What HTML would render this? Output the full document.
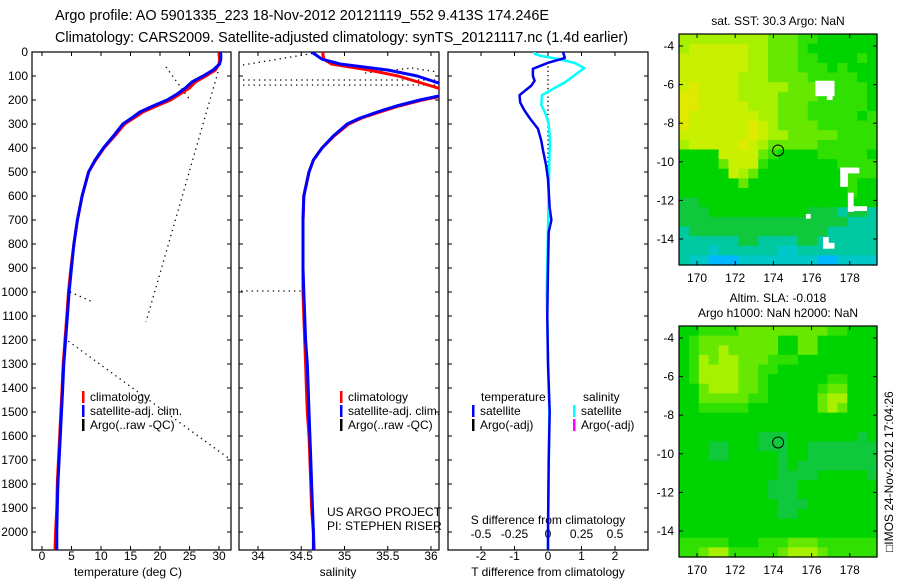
<!DOCTYPE html>
<html><head><meta charset="utf-8">
<style>
html,body{margin:0;padding:0;background:#fff;}
svg{display:block;font-family:"Liberation Sans",sans-serif;}
</style></head>
<body>
<svg id="fig" width="900" height="580" viewBox="0 0 900 580" xmlns="http://www.w3.org/2000/svg">
<defs>
<clipPath id="c1"><rect x="32" y="52" width="199" height="498"/></clipPath>
<clipPath id="c2"><rect x="239" y="52" width="200" height="498"/></clipPath>
<clipPath id="c3"><rect x="448" y="52" width="200" height="498"/></clipPath>
</defs>
<g font-size="14.4">
<text x="55" y="20">Argo profile: AO 5901335_223 18-Nov-2012 20121119_552 9.413S 174.246E</text>
<text x="55" y="42">Climatology: CARS2009. Satellite-adjusted climatology: synTS_20121117.nc (1.4d earlier)</text>
</g>
<g id="p1"></g>
<g id="p2"></g>
<g id="p3"></g>
<g id="m1"></g>
<g id="m2"></g>
<text transform="translate(893,552) rotate(-90)" font-size="12">□IMOS 24-Nov-2012 17:04:26</text>
</svg>
<script>
// ---------- data ----------
const depths = [0,10,30,50,75,100,125,150,175,200,225,250,275,300,350,400,450,500,600,700,800,900,1000,1100,1200,1300,1400,1500,1600,1700,1800,1900,2000,2075];
const tempClim = [30.0,30.0,30.1,30.0,29.4,27.8,26.0,25.0,23.4,21.8,19.4,17.1,15.6,14.0,12.3,10.5,9.1,7.9,6.8,6.0,5.4,4.9,4.5,4.2,3.9,3.6,3.4,3.2,3.0,2.8,2.6,2.5,2.3,2.2];
const tempSat = [30.2,30.3,30.3,30.1,29.0,27.3,25.4,24.3,22.9,21.2,18.8,16.6,15.2,13.7,12.1,10.4,9.0,7.9,6.8,6.0,5.4,5.0,4.6,4.3,4.0,3.7,3.5,3.3,3.1,2.9,2.7,2.6,2.5,2.5];
const salClim = [34.75,34.75,34.76,34.85,35.28,35.62,35.85,36.08,36.25,35.9,35.63,35.41,35.2,35.05,34.88,34.74,34.64,34.59,34.53,34.52,34.52,34.52,34.52,34.53,34.54,34.55,34.56,34.57,34.59,34.6,34.61,34.62,34.64,34.65];
const salSat = [34.62,34.66,34.74,34.95,35.5,35.84,36.05,36.3,36.2,35.87,35.6,35.38,35.18,35.03,34.87,34.74,34.64,34.59,34.53,34.52,34.52,34.52,34.53,34.54,34.55,34.57,34.58,34.59,34.6,34.61,34.62,34.63,34.64,34.64];
const tDiffDepth = [0,25,45,70,100,120,140,180,210,240,275,320,370,410,470,530,650,700,750,900,1100,1300,1500,1700,2000,2075];
const tDiff = [0.45,0.5,0.0,-0.45,-0.45,-0.4,-0.5,-0.85,-0.83,-0.72,-0.55,-0.3,-0.2,-0.15,-0.06,0,0.05,0.1,0.02,0.0,-0.02,0.0,0.05,0.02,0.0,0.0];
const sDiffDepth = [0,8,15,30,46,67,96,125,150,180,220,262,300,370,450,600,1000,1500,2075];
const sDiff = [-0.1,-0.1,-0.06,0.08,0.2,0.27,0.2,0.13,0.05,-0.045,-0.05,-0.015,0.005,0.015,0.01,0.005,-0.01,0.01,0.0];
const depthTicks = [0,100,200,300,400,500,600,700,800,900,1000,1100,1200,1300,1400,1500,1600,1700,1800,1900,2000];
const tempTicks = [0,5,10,15,20,25,30];
const salTicks = [34,34.5,35,35.5,36];
const tdTicks = [-2,-1,0,1,2];
const sdTicks = [-0.5,-0.25,0,0.25,0.5];
const sdTickLabels = ["-0.5","-0.25","0","0.25","0.5"];
const lonTicks = [170,172,174,176,178];
const latTicks = [-4,-6,-8,-10,-12,-14];
const argoLon = 174.246, argoLat = -9.413;
const sstRows = [
"77777777766655444444","78888887766654444444","88888887766655444454","88888887766655545444",
"88888877766665555544","89888877777666555554","99888877776666555554","99888887776665555554",
"98888888776665555545","98888889876666555555","88888889877666665555","78888898766666555555",
"44448888654444555554","44446888544444445555","44444876444444444555","44444464444444444544",
"44444444444444444544","33444444444444444444","33344444444443332332","33333333333333333222",
"23333333333333322222","22222233222233222222","22212222221122222222","21100011111111001111"];
const slaRows = [
"44555566666666655444","45666666664466444444","45667666664466444444","45767766655544444444",
"45777766554444444444","45777766544444455444","44677766544444566444","44666665544444677444",
"44555554444444676444","44444444444444444444","44444444444444444444","44444444333444444434",
"44433444333443333333","44433444443443333333","44444444443433333333","44444444443333444443",
"44444444433344444444","44444444433344444444","44444444443334444444","44444444443344444444",
"44444444444444444444","44444444444444444444","55555444555666555555","55677555556777655555"];
const nanBoxes = [[176.2,-5.8,1.0,0.8],[176.8,-6.2,0.3,0.6],[177.5,-10.3,0.4,1.0],[177.5,-10.3,1.0,0.3],[177.9,-11.6,0.3,1.0],[177.9,-12.3,1.0,0.25],[175.7,-12.7,0.25,0.25],[176.6,-13.9,0.3,0.6],[176.6,-14.2,0.6,0.3]];
const palette = ["#00b8ff","#00c8c8","#00c8a0","#10c83c","#00d400","#30e000","#66e800","#a6f000","#c8f000","#e0ea00"];

// ---------- helpers ----------
const NS="http://www.w3.org/2000/svg";
function mk(parent,tag,attrs,text){const e=document.createElementNS(NS,tag);for(const k in attrs)e.setAttribute(k,attrs[k]);if(text!==undefined)e.textContent=text;parent.appendChild(e);return e;}
const yD = d => 52 + d*0.24;
const xT = t => 42 + t*5.9;
const xS = s => 258 + (s-34)*86.5;
const xTD = v => 548 + v*33.5;
const xSD = v => 548 + v*134;

function frame(g,x0,w,name){const r=mk(g,"rect",{x:x0,y:52,width:w,height:498,fill:"none",stroke:"#000","stroke-width":1.2});

}
function yTicks(g,x0,w){depthTicks.forEach(d=>{mk(g,"line",{x1:x0,x2:x0+4,y1:yD(d),y2:yD(d),stroke:"#000"});mk(g,"line",{x1:x0+w-4,x2:x0+w,y1:yD(d),y2:yD(d),stroke:"#000"});});}
function xTicks(g,ticks,fx,labels,ly){ticks.forEach((t,i)=>{const x=fx(t);mk(g,"line",{x1:x,x2:x,y1:546,y2:550,stroke:"#000"});mk(g,"line",{x1:x,x2:x,y1:52,y2:56,stroke:"#000"});
const tx=mk(g,"text",{x:x,y:ly,"text-anchor":"middle","font-size":12},labels?labels[i]:String(t));

});}
function line(g,xs,ds,fx,color,w,clip,name){const pts=xs.map((v,i)=>fx(v).toFixed(1)+","+yD(ds[i]).toFixed(1)).join(" ");
const p=mk(g,"polyline",{points:pts,fill:"none",stroke:color,"stroke-width":w,"clip-path":"url(#"+clip+")","stroke-linejoin":"round"});

}
function dotted(g,x1,y1,x2,y2,clip){mk(g,"line",{x1:x1,y1:y1,x2:x2,y2:y2,stroke:"#000","stroke-width":1.3,"stroke-dasharray":"1.3 4","clip-path":"url(#"+clip+")"});}
function legend(g,x,items,y0){items.forEach((it,i)=>{const y=y0+i*14;mk(g,"rect",{x:x,y:y-10,width:2.5,height:12,fill:it[0]});
const t=mk(g,"text",{x:x+8,y:y,"font-size":12},it[1]);

});}

// ---------- panel 1 ----------
const p1=document.getElementById("p1");
frame(p1,32,199,"temperature-axes");yTicks(p1,32,199);
depthTicks.forEach(d=>{const t=mk(p1,"text",{x:28,y:yD(d)+4,"text-anchor":"end","font-size":12},String(d));

});
xTicks(p1,tempTicks,xT,null,560);
dotted(p1,166,67,190,100,"c1");dotted(p1,218,72,146,322,"c1");dotted(p1,70,292,93,302,"c1");dotted(p1,64,338,231,460,"c1");
line(p1,tempClim,depths,xT,"#ff0000",3,"c1","temperature-climatology-line");
line(p1,tempSat,depths,xT,"#0000ff",3,"c1","temperature-satellite-line");
legend(p1,82,[["#ff0000","climatology"],["#0000ff","satellite-adj. clim."],["#000","Argo(..raw -QC)"]],401);
const xl1=mk(p1,"text",{x:128,y:576,"text-anchor":"middle","font-size":12},"temperature (deg C)");



// ---------- panel 2 ----------
const p2=document.getElementById("p2");
frame(p2,239,200,"salinity-axes");yTicks(p2,239,200);
xTicks(p2,salTicks,xS,null,560);
dotted(p2,243,65,315,53,"c2");dotted(p2,243,80,438,80,"c2");dotted(p2,243,85,438,85,"c2");dotted(p2,365,73,412,68,"c2");dotted(p2,412,68,438,72,"c2");dotted(p2,241,291,305,291,"c2");
line(p2,salClim,depths,xS,"#ff0000",3,"c2","salinity-climatology-line");
line(p2,salSat,depths,xS,"#0000ff",3,"c2","salinity-satellite-line");
legend(p2,340,[["#ff0000","climatology"],["#0000ff","satellite-adj. clim."],["#000","Argo(..raw -QC)"]],401);
const pr1=mk(p2,"text",{x:327,y:516,"font-size":12},"US ARGO PROJECT");


const pr2=mk(p2,"text",{x:327,y:530,"font-size":12},"PI: STEPHEN RISER");


const xl2=mk(p2,"text",{x:338,y:576,"text-anchor":"middle","font-size":12},"salinity");



// ---------- panel 3 ----------
const p3=document.getElementById("p3");
frame(p3,448,200,"difference-axes");yTicks(p3,448,200);
xTicks(p3,tdTicks,xTD,null,560);
sdTicks.forEach((v,i)=>{const t=mk(p3,"text",{x:xSD(v),y:538,"text-anchor":"middle","font-size":12},sdTickLabels[i]);

});
const sdt=mk(p3,"text",{x:548,y:524,"text-anchor":"middle","font-size":12},"S difference from climatology");


mk(p3,"line",{x1:548,y1:yD(60),x2:548,y2:yD(600),stroke:"#000","stroke-width":1.3,"stroke-dasharray":"1.3 3"});
line(p3,sDiff,sDiffDepth,xSD,"#00ffff",2.5,"c3","salinity-difference-line");
line(p3,tDiff,tDiffDepth,xTD,"#0000ee",2.5,"c3","temperature-difference-line");
const lt1=mk(p3,"text",{x:481,y:401,"font-size":12},"temperature");


const lt2=mk(p3,"text",{x:583,y:401,"font-size":12},"salinity");


legend(p3,472,[["#0000ff","satellite"],["#000","Argo(-adj)"]],415);
legend(p3,573,[["#00ffff","satellite"],["#ff00ff","Argo(-adj)"]],415);
const xl3=mk(p3,"text",{x:548,y:576,"text-anchor":"middle","font-size":12},"T difference from climatology");



// ---------- maps ----------
function drawMap(g,top,rows,titles,nan){
  const x0=679,w=198,h=231;
  const lonX=l=>697+(l-170)*19.1;
  const latY=a=>top+12+(-4-a)*19.3;
  const nr=rows.length,nc=rows[0].length,cw=w/nc,ch=h/nr;
  rows.forEach((row,r)=>{for(let c=0;c<nc;c++){
    const cell=mk(g,"rect",{x:(x0+c*cw).toFixed(2),y:(top+r*ch).toFixed(2),width:(cw+0.6).toFixed(2),height:(ch+0.6).toFixed(2),fill:palette[+row[c]]});
    
    
  }});
  if(nan)nan.forEach(b=>{const nb=mk(g,"rect",{x:lonX(b[0]),y:latY(b[1]),width:b[2]*19.1,height:b[3]*19.3,fill:"#fff"});
    
    });
  const fr=mk(g,"rect",{x:x0,y:top,width:w,height:h,fill:"none",stroke:"#000","stroke-width":1.2});
  
  
  lonTicks.forEach(l=>{const x=lonX(l);mk(g,"line",{x1:x,x2:x,y1:top,y2:top+4,stroke:"#000"});mk(g,"line",{x1:x,x2:x,y1:top+h-4,y2:top+h,stroke:"#000"});
    const t=mk(g,"text",{x:x,y:top+h+17,"text-anchor":"middle","font-size":12},String(l));
    
    });
  latTicks.forEach(a=>{const y=latY(a);mk(g,"line",{x1:x0,x2:x0+4,y1:y,y2:y,stroke:"#000"});mk(g,"line",{x1:x0+w-4,x2:x0+w,y1:y,y2:y,stroke:"#000"});
    const t=mk(g,"text",{x:x0-5,y:y+4,"text-anchor":"end","font-size":12},String(a));
    
    });
  const ci=mk(g,"circle",{cx:lonX(argoLon),cy:latY(argoLat),r:5.5,fill:"none",stroke:"#000","stroke-width":1});
  
  
  titles.forEach((s,i)=>{const t=mk(g,"text",{x:778,y:top-(titles.length-i)*15+10-4,"text-anchor":"middle","font-size":12},s);
    
    });
}
drawMap(document.getElementById("m1"),34,sstRows,["sat. SST: 30.3 Argo: NaN"],nanBoxes);
drawMap(document.getElementById("m2"),326,slaRows,["Altim. SLA: -0.018","Argo h1000: NaN h2000: NaN"],null);
</script>
</body></html>
